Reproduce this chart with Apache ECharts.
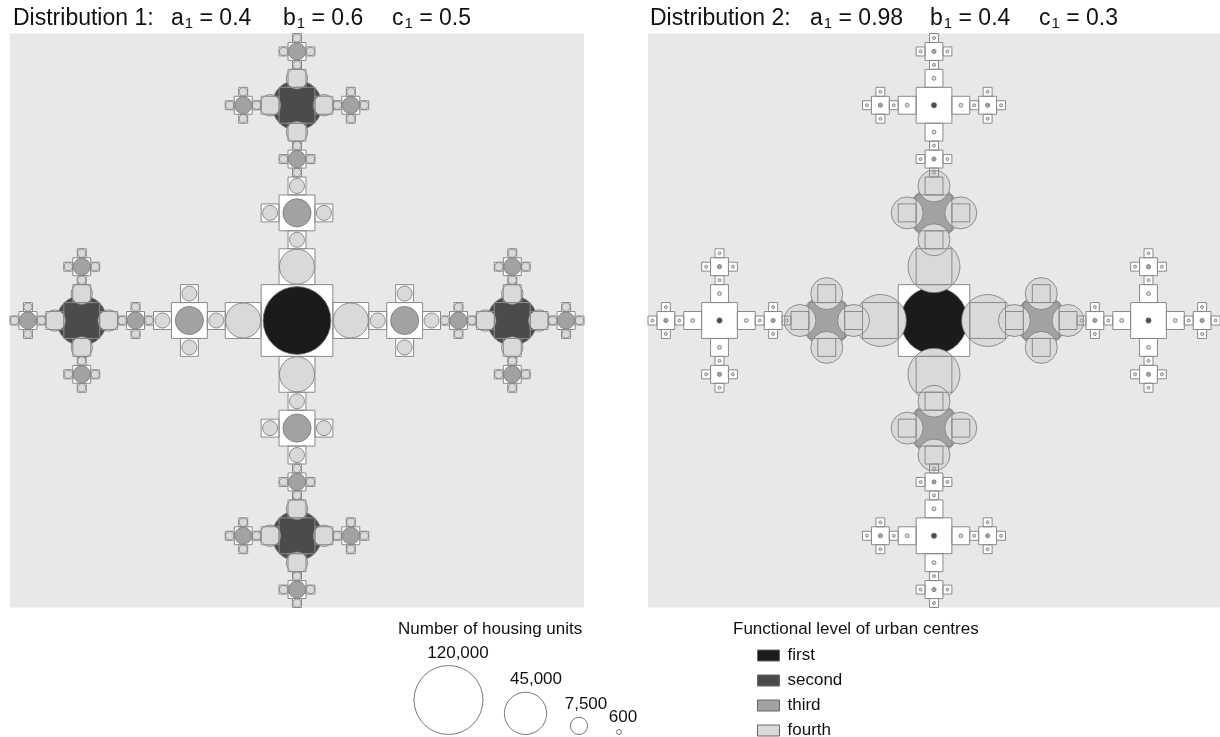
<!DOCTYPE html>
<html><head><meta charset="utf-8">
<script src="https://cdn.jsdelivr.net/npm/echarts@6/dist/echarts.min.js"></script>
<style>html,body{margin:0;padding:0;background:#fff}#c{width:1220px;height:737px}</style>
</head><body><div id="c"></div>
<script>
// ---------- data ----------
const levelNames = ['first', 'second', 'third', 'fourth'];
const levelColors = ['#1b1b1b', '#4b4b4b', '#a2a2a2', '#d9d9d9'];
// centre types of the fractal pattern
const centreTypes = ['first', 'fourth next to first', 'third', 'fourth next to third',
  'second', 'fourth next to second', 'third next to second', 'fourth next to third of second'];
const centreLevel = [0, 3, 2, 3, 1, 3, 2, 3];
// housing units per centre type (read from circle areas)
const housing1 = [116000, 31000, 20000, 5700, 63000, 11500, 7300, 1800];
const housing2 = [113000, 68000, 65000, 25800, 700, 400, 450, 230];
const sizeLegendValues = [120000, 45000, 7500, 600];
const sizeLegendLabels = ['120,000', '45,000', '7,500', '600'];
const panelTitles = ['Distribution 1:', 'Distribution 2:'];
const paramNames = ['a', 'b', 'c'];
const params1 = ['0.4', '0.6', '0.5'];
const params2 = ['0.98', '0.4', '0.3'];
const sizeLegendTitle = 'Number of housing units';
const levelLegendTitle = 'Functional level of urban centres';

// ---------- fractal layout (cell grid units) ----------
const DIRS = [[1, 0], [-1, 0], [0, 1], [0, -1]];
function buildCells() {
  const cells = [[0, 0, 8, 0]];
  DIRS.forEach(([dx, dy]) => {
    cells.push([6 * dx, 6 * dy, 4, 1]);
    const tx = 12 * dx, ty = 12 * dy;
    cells.push([tx, ty, 4, 2]);
    DIRS.forEach(([ex, ey]) => cells.push([tx + 3 * ex, ty + 3 * ey, 2, 3]));
    const sx = 24 * dx, sy = 24 * dy;
    cells.push([sx, sy, 4, 4]);
    DIRS.forEach(([ex, ey]) => {
      cells.push([sx + 3 * ex, sy + 3 * ey, 2, 5]);
      const ux = sx + 6 * ex, uy = sy + 6 * ey;
      cells.push([ux, uy, 2, 6]);
      DIRS.forEach(([fx, fy]) => cells.push([ux + 1.5 * fx, uy + 1.5 * fy, 1, 7]));
    });
  });
  return cells;
}
const cells = buildCells();

const REF_VALUE = 120000, REF_R = 34.5;
const radiusOf = v => REF_R * Math.sqrt(v / REF_VALUE);
const FONT = 'Liberation Sans, Arial, sans-serif';
const SQ_STROKE = '#8a8a8a';
const CIRC_STROKE = '#777';

function squareSeries(gi, fill) {
  return {
    type: 'custom', name: fill ? 'cells' : 'cell outlines', xAxisIndex: gi, yAxisIndex: gi,
    z: fill ? 1 : 8, silent: true, encode: { x: 0, y: 1 },
    data: cells.map(c => [c[0], c[1], c[2]]),
    renderItem(p, api) {
      const ctr = api.coord([api.value(0), api.value(1)]);
      const s = api.size([api.value(2), api.value(2)]);
      return {
        type: 'rect',
        shape: { x: ctr[0] - s[0] / 2, y: ctr[1] - s[1] / 2, width: s[0], height: s[1] },
        style: fill ? { fill: '#fff', stroke: null } : { fill: null, stroke: SQ_STROKE, lineWidth: 1 }
      };
    }
  };
}
function circleSeries(gi, li, housing) {
  return {
    type: 'custom', name: levelNames[li], xAxisIndex: gi, yAxisIndex: gi,
    z: 2 + li, silent: true, encode: { x: 0, y: 1 },
    itemStyle: { color: levelColors[li], borderColor: '#666', borderWidth: 1 },
    data: cells.filter(c => centreLevel[c[3]] === li).map(c => [c[0], c[1], housing[c[3]]]),
    renderItem(p, api) {
      const ctr = api.coord([api.value(0), api.value(1)]);
      return {
        type: 'circle',
        shape: { cx: ctr[0], cy: ctr[1], r: radiusOf(api.value(2)) },
        style: { fill: levelColors[li], stroke: CIRC_STROKE, lineWidth: 0.8 }
      };
    }
  };
}

const series = [];
[housing1, housing2].forEach((h, gi) => {
  series.push(squareSeries(gi, true));
  levelNames.forEach((n, li) => series.push(circleSeries(gi, li, h)));
  series.push(squareSeries(gi, false));
});

const titleRich = {
  m: { fontSize: 23, fontWeight: 'normal', fontFamily: FONT, color: '#111', verticalAlign: 'middle', lineHeight: 24 },
  s: { fontSize: 15, fontWeight: 'normal', fontFamily: FONT, color: '#111', verticalAlign: 'bottom', lineHeight: 15, padding: [13, 0, 0, 1] }
};
const titles = [];
const paramX = [[171, 283, 392], [810, 930, 1039]];
[params1, params2].forEach((pv, gi) => {
  titles.push({ text: panelTitles[gi], left: gi ? 650 : 13, top: 7.5, padding: 0,
    textStyle: { fontSize: 23, fontWeight: 'normal', color: '#111', fontFamily: FONT } });
  pv.forEach((v, k) => titles.push({
    text: `{m|${paramNames[k]}}{s|1}{m| = ${v}}`, left: paramX[gi][k], top: 7, padding: 0,
    textStyle: { fontWeight: 'normal', rich: titleRich }
  }));
});

const graphic = [
  { type: 'text', left: 398, top: 621, style: { text: sizeLegendTitle, font: `17px ${FONT}`, fill: '#111' } },
  { type: 'text', left: 733, top: 621, style: { text: levelLegendTitle, font: `17px ${FONT}`, fill: '#111' } }
];
const legCircleX = [448.5, 525.5, 579, 619];
const legLabelX = [458, 536, 586, 623];
const legBottom = 734.5;
sizeLegendValues.forEach((v, i) => {
  const r = radiusOf(v);
  graphic.push({ type: 'circle', shape: { cx: legCircleX[i], cy: legBottom - r, r },
    style: { fill: null, stroke: '#777', lineWidth: 1 } });
  graphic.push({ type: 'text', x: legLabelX[i], y: legBottom - 2 * r - 4,
    style: { text: sizeLegendLabels[i], font: `17px ${FONT}`, fill: '#111', align: 'center', verticalAlign: 'bottom' } });
});

const axisBase = { type: 'value', min: -32, max: 32, show: false };
const option = {
  animation: false,
  backgroundColor: '#fff',
  title: titles,
  grid: [
    { left: 10, top: 33.5, width: 574, height: 574, show: true, backgroundColor: '#e8e8e8', borderWidth: 0 },
    { left: 648, top: 33.5, width: 574, height: 574, show: true, backgroundColor: '#e8e8e8', borderWidth: 0 }
  ],
  xAxis: [{ ...axisBase, gridIndex: 0 }, { ...axisBase, gridIndex: 1 }],
  yAxis: [{ ...axisBase, gridIndex: 0 }, { ...axisBase, gridIndex: 1 }],
  legend: {
    orient: 'vertical', left: 757, top: 647, height: 120, padding: 0, selectedMode: false,
    itemWidth: 22, itemHeight: 11, itemGap: 8, icon: 'rect',
    textStyle: { fontSize: 17, fontFamily: FONT, color: '#111', lineHeight: 16, padding: [0, 0, 0, 3] },
    data: levelNames.map((n, i) => ({ name: n, itemStyle: { color: levelColors[i], borderColor: '#666', borderWidth: 1 } }))
  },
  graphic,
  series
};
const chart = echarts.init(document.getElementById('c'), null, { renderer: 'canvas' });
chart.setOption(option);
</script></body></html>
